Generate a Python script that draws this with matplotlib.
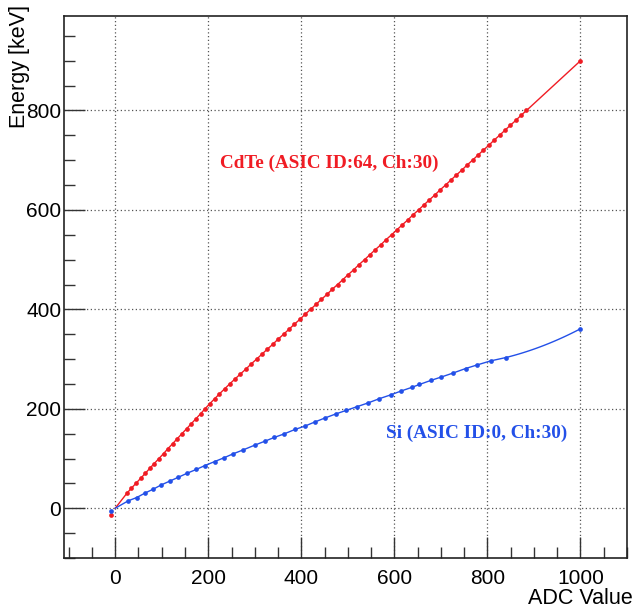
import numpy as np
import matplotlib
matplotlib.use("Agg")
import matplotlib.pyplot as plt
from matplotlib.ticker import MultipleLocator

# ---- data ----
cdte_energy = [30, 40, 50, 60, 70, 80, 90, 100, 110, 120, 130, 140, 150, 160, 170, 180, 190, 200,
               210, 220, 230, 240, 250, 260, 270, 280, 290, 300, 310, 320, 330, 340, 350, 360, 370,
               380, 390, 400, 410, 420, 430, 440, 450, 460, 470, 480, 490, 500, 510, 520, 530, 540,
               550, 560, 570, 580, 590, 600, 610, 620, 630, 640, 650, 660, 670, 680, 690, 700, 710,
               720, 730, 740, 750, 760, 770, 780, 790, 800]
cdte_adc = [25, 34.5, 44.5, 54.5, 64.5, 74, 84, 94, 104, 113.5, 123.5, 133.5, 143.5, 153.5, 163.5,
            173.5, 183.5, 193, 203, 213.5, 224, 235, 246, 257.5, 269, 281, 292, 304, 315.5, 327,
            339, 350, 362, 373.5, 385, 397, 408, 420, 431.5, 443, 455, 466, 478, 489.5, 501, 513,
            524, 536, 547.5, 559, 571, 582, 594, 605.5, 617, 629, 640, 652, 663.5, 675, 687, 698,
            710, 721.5, 733, 745, 756, 768, 779.5, 791, 803, 814, 826, 837.5, 849, 861, 872, 884]
cdte_extra_adc = [-10]
cdte_extra_energy = [-13]
cdte_end_adc = 1000
cdte_end_energy = 900

si_adc = [28, 46, 65, 82, 99, 117, 136, 155, 174, 193, 214, 234, 254, 274, 300, 322, 342, 362,
          387, 407, 429, 452, 475, 497, 520, 543, 568, 592, 615, 637, 654, 678, 701, 725, 753,
          778, 807, 839]
si_energy = [15, 21.5, 31, 38.5, 47, 54.5, 62.5, 70.6, 78, 86, 94, 101.6, 109.7, 117, 127, 135,
             142.5, 149.2, 158.7, 165, 173.5, 182, 190, 197, 204.4, 211.7, 220.5, 228, 236, 243,
             249, 257, 264, 271.6, 281, 288.3, 296.4, 303]
si_extra_adc = [-9]
si_extra_energy = [-5]
si_end_adc = 1000
si_end_energy = 361

red = "#f01c24"
blue = "#2350e8"

W, H = 634, 607
fig = plt.figure(figsize=(W / 100, H / 100), dpi=100)
ax = fig.add_axes([64 / W, 1 - 558 / H, (627 - 64) / W, (558 - 16) / H])

# CdTe
cx = [0] + cdte_adc + [cdte_end_adc]
cy = [0] + cdte_energy + [cdte_end_energy]
ax.plot(cx, cy, color=red, lw=1.0, zorder=3)
ax.plot(cdte_adc + [cdte_end_adc] + cdte_extra_adc,
        cdte_energy + [cdte_end_energy] + cdte_extra_energy,
        'o', color=red, ms=3.4, mew=0, zorder=4)

# Si (smooth last segment with quadratic through last points)
sx = [0] + si_adc
sy = [0] + si_energy
qx = np.array([si_adc[-2], si_adc[-1], si_end_adc], dtype=float)
qy = np.array([si_energy[-2], si_energy[-1], si_end_energy], dtype=float)
coef = np.polyfit(qx, qy, 2)
tx = np.linspace(si_adc[-1], si_end_adc, 40)
ax.plot(sx + list(tx), sy + list(np.polyval(coef, tx)), color=blue, lw=1.0, zorder=3)
ax.plot(si_adc + [si_end_adc] + si_extra_adc,
        si_energy + [si_end_energy] + si_extra_energy,
        'o', color=blue, ms=3.4, mew=0, zorder=4)

ax.set_xlim(-110, 1100)
ax.set_ylim(-100, 990)
ax.xaxis.set_major_locator(MultipleLocator(200))
ax.xaxis.set_minor_locator(MultipleLocator(50))
ax.yaxis.set_major_locator(MultipleLocator(200))
ax.yaxis.set_minor_locator(MultipleLocator(50))
ax.grid(True, which='major', linestyle=(0, (1, 2)), color='#555555', lw=0.9)
ax.tick_params(which='both', direction='in', top=False, right=False, color='#333333',
               labelsize=15)
ax.tick_params(which='major', length=15, width=1.0)
ax.tick_params(which='minor', length=8, width=1.0)
ax.tick_params(axis='x', pad=8)
ax.tick_params(axis='y', pad=2)
for lab in ax.get_xticklabels() + ax.get_yticklabels():
    lab.set_family('Liberation Sans')
for s in ax.spines.values():
    s.set_color('#222222')
    s.set_linewidth(1.2)

fig.text(20 / W, 1 - 5 / H, "Energy [keV]", rotation=90, ha='center', va='top',
         fontsize=15.5, family='Liberation Sans')
fig.text(633 / W, 1 - 598 / H, "ADC Value", ha='right', va='center',
         fontsize=15.5, family='Liberation Sans')

fig.text(329 / W, 1 - 163 / H, "CdTe (ASIC ID:64, Ch:30)", ha='center', va='center',
         color=red, fontsize=13.8, fontweight='bold', family='Liberation Serif')
fig.text(477 / W, 1 - 433 / H, "Si (ASIC ID:0, Ch:30)", ha='center', va='center',
         color=blue, fontsize=13.8, fontweight='bold', family='Liberation Serif')

fig.savefig("out.png", dpi=100)
